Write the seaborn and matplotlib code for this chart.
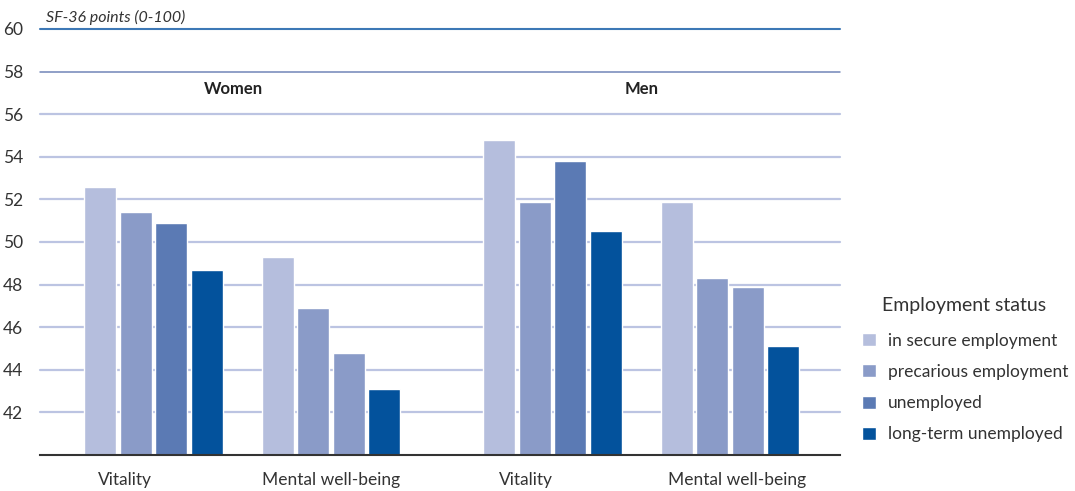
import numpy as np
import pandas as pd
import matplotlib
matplotlib.use("Agg")
import matplotlib.pyplot as plt
import seaborn as sns

# Data: SF-36 scores by sex, measure and employment status
sexes = ["Women", "Men"]
measures = ["Vitality", "Mental well-being"]
statuses = ["in secure employment", "precarious employment",
            "unemployed", "long-term unemployed"]
# values ordered: Women Vitality, Women Mental, Men Vitality, Men Mental
secure = [52.6, 49.3, 54.8, 51.9]
precarious = [51.4, 46.9, 51.9, 48.3]
unemployed = [50.9, 44.8, 53.8, 47.9]
long_term = [48.7, 43.1, 50.5, 45.1]
y_ticks = [42, 44, 46, 48, 50, 52, 54, 56, 58, 60]

colors = ["#b5bedd", "#8a9bc8", "#5b7ab4", "#03529c"]

# group positions on the x axis (wider gap between the two sexes)
group_pos = [0.0, 1.0, 2.25, 3.25]
# small horizontal shifts of the category labels under each group
label_shift = [-0.16, 0.0, -0.15, 0.04]

rows = []
series = [secure, precarious, unemployed, long_term]
for s_idx, status in enumerate(statuses):
    for g_idx in range(4):
        rows.append({
            "pos": group_pos[g_idx],
            "sex": sexes[g_idx // 2],
            "measure": measures[g_idx % 2],
            "status": status,
            "value": series[s_idx][g_idx],
        })
df = pd.DataFrame(rows)

sns.set_theme(style="white")
plt.rcParams["font.family"] = ["Lato", "DejaVu Sans"]

fig = plt.figure(figsize=(10.75, 4.91), dpi=100)
ax = fig.add_axes([40 / 1075, 36 / 491, 800 / 1075, 426 / 491])

sns.barplot(data=df, x="pos", y="value", hue="status", hue_order=statuses,
            palette=colors, native_scale=True, width=0.8, gap=0.1,
            saturation=1, ax=ax, legend=True, zorder=3)

ax.set_ylim(40, 60)
ax.set_xlim(-0.64, 3.87)

# the "unemployed" bars in the mental well-being groups share the precarious shade
for p in ax.patches:
    cx = p.get_x() + p.get_width() / 2
    for gi in (1, 3):
        off = cx - group_pos[gi]
        if 0 < off < 0.2:
            p.set_facecolor(colors[1])

# gridlines
for t in y_ticks:
    if t == 60:
        col, lw = "#3d78b6", 1.5
    elif t == 58:
        col, lw = "#7285b8", 1.1
    else:
        col, lw = "#bcc4e2", 1.6
    ax.axhline(t, color=col, lw=lw, zorder=1, clip_on=False)

for side in ["top", "right", "left"]:
    ax.spines[side].set_visible(False)
ax.spines["bottom"].set_color("#333333")
ax.spines["bottom"].set_linewidth(1.5)
ax.spines["bottom"].set_zorder(4)

ax.set_yticks(y_ticks)
ax.set_yticklabels([str(t) for t in y_ticks], fontsize=12.5, color="#333333")
ax.tick_params(axis="y", length=0, pad=12)
ax.set_xticks([g + s for g, s in zip(group_pos, label_shift)])
ax.set_xticklabels([measures[i % 2] for i in range(4)], fontsize=12.5,
                   color="#333333")
ax.tick_params(axis="x", length=0, pad=12)
ax.set_xlabel("")
ax.set_ylabel("")

# sex headings
ax.text(0.45, 57.2, "Women", ha="center", va="center", fontsize=12,
        fontweight="bold", color="#222222")
ax.text(2.75, 57.2, "Men", ha="center", va="center", fontsize=12,
        fontweight="bold", color="#222222")

ax.text(0.008, 1.01, "SF-36 points (0-100)", transform=ax.transAxes,
        ha="left", va="bottom", fontsize=11.5, fontstyle="italic",
        color="#333333")

# legend, with its heading aligned to the entry labels
leg = ax.legend(loc="upper left", bbox_to_anchor=(1.008, 0.324),
                frameon=False, fontsize=12.5, handlelength=0.78,
                handleheight=0.78, handletextpad=0.7, labelspacing=0.88)
for txt in leg.get_texts():
    txt.set_color("#333333")
ax.text(1.052, 0.35, "Employment status", transform=ax.transAxes,
        ha="left", va="center", fontsize=14, color="#333333")

fig.savefig("out.png", dpi=100)
